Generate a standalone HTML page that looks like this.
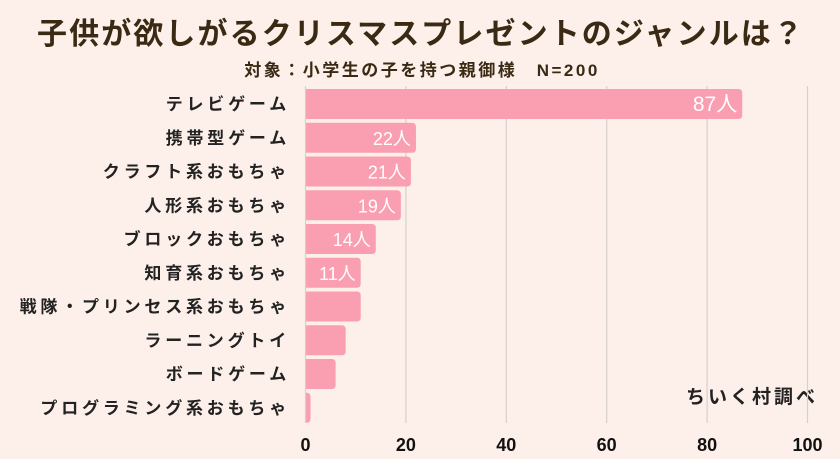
<!DOCTYPE html>
<html><head><meta charset="utf-8"><style>
body{margin:0;width:840px;height:459px;background:#fdf0ea;overflow:hidden;font-family:"Liberation Sans","Noto Sans CJK JP",sans-serif;}
svg{display:block}
</style></head><body>
<svg id="c" width="840" height="459">
<text x="421" y="44" text-anchor="middle" font-size="30" font-weight="bold" fill="#3a2a14" letter-spacing="2.1">子供が欲しがるクリスマスプレゼントのジャンルは？</text>
<text x="422" y="76" text-anchor="middle" font-size="17" font-weight="bold" fill="#3a2a14" letter-spacing="2.5">対象：小学生の子を持つ親御様　N=200</text>
<text x="818" y="403" text-anchor="end" font-size="19" font-weight="bold" fill="#222" letter-spacing="3">ちいく村調べ</text>
</svg>
<script>
const categories=["テレビゲーム","携帯型ゲーム","クラフト系おもちゃ","人形系おもちゃ","ブロックおもちゃ","知育系おもちゃ","戦隊・プリンセス系おもちゃ","ラーニングトイ","ボードゲーム","プログラミング系おもちゃ"];
const values=[87,22,21,19,14,11,11,8,6,1];
const valueLabels=["87人","22人","21人","19人","14人","11人","","","",""];
const ticks=[0,20,40,60,80,100];
const svg=document.getElementById('c');
const NS='http://www.w3.org/2000/svg';
const x0=305.5,pxu=5.02,top0=89,pitch=33.75,bh=30;
const xs=v=>x0+v*pxu;
const ys=i=>top0+i*pitch;
function mk(t,a){const e=document.createElementNS(NS,t);for(const k in a)e.setAttribute(k,a[k]);svg.appendChild(e);return e;}
ticks.forEach(t=>{
 if(t>0){const g=mk('line',{x1:xs(t),x2:xs(t),y1:86,y2:423,stroke:'#d6d0cc','stroke-width':1.2});
 
 }
 const l=mk('text',{x:xs(t),y:451,'text-anchor':'middle','font-size':18,'font-weight':'bold',fill:'#111'});
 l.textContent=t;
 
 
});
categories.forEach((c,i)=>{
 const y=ys(i),w=xs(values[i])-x0;
 const b=mk('path',{d:`M${x0},${y}H${x0+w-4}Q${x0+w},${y} ${x0+w},${y+4}V${y+bh-4}Q${x0+w},${y+bh} ${x0+w-4},${y+bh}H${x0}Z`,fill:'#f99fb1'});
 
 
 const t=mk('text',{x:290,y:y+bh/2+6,'text-anchor':'end','font-size':17,'font-weight':'bold',fill:'#222','letter-spacing':3.8});
 t.textContent=c;
 
 
 if(valueLabels[i]){const v=mk('text',{x:x0+w-5,y:y+bh/2+7,'text-anchor':'end','font-size':i==0?21:18,fill:'#fff'});
 v.textContent=valueLabels[i];
 
 }
});
const ax=mk('line',{x1:x0,x2:x0,y1:86,y2:423,stroke:'#d6d0cc','stroke-width':1.2});


</script>
</body></html>
